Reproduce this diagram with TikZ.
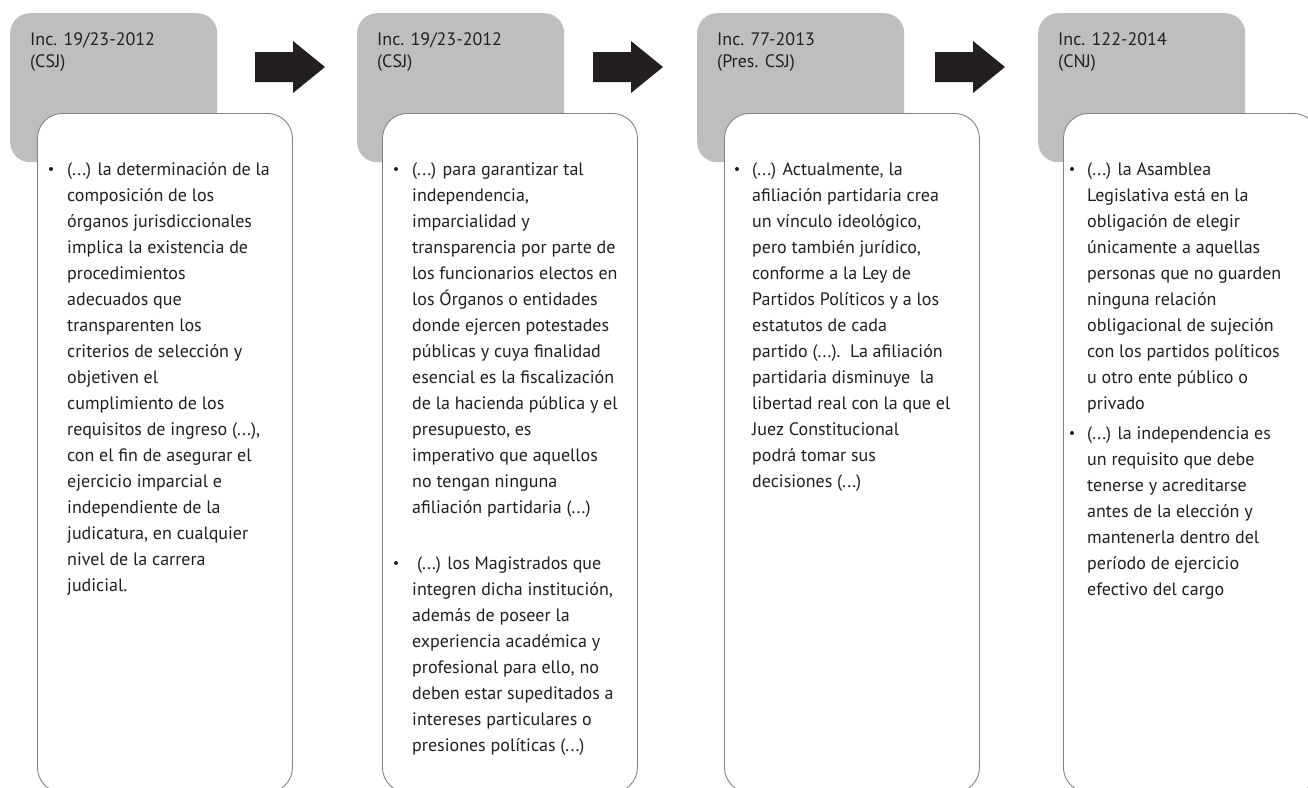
\documentclass[tikz,border=0pt]{standalone}
\usepackage{fontspec}
\setmainfont{PT Sans}
\definecolor{headgray}{RGB}{188,190,192}
\definecolor{framegray}{RGB}{128,130,133}
\definecolor{inkgray}{RGB}{35,31,32}
\begin{document}
\begin{tikzpicture}
	[x=1pt,y=-1pt,
	head/.style={fill=headgray,rounded corners=20pt,anchor=north west,minimum width=207pt,minimum height=149pt,inner sep=0pt},
	card/.style={draw=framegray,fill=white,line width=0.9pt,rounded corners=25pt,anchor=north west,minimum width=255pt,minimum height=679pt,inner sep=0pt},
	title/.style={anchor=north west,inner sep=0pt,align=left,text=inkgray,font=\fontsize{18}{22}\selectfont},
	body/.style={anchor=north west,inner sep=0pt,align=left,text=inkgray,font=\fontsize{18}{26}\selectfont},
	dot/.style={circle,fill=inkgray,inner sep=0pt,minimum size=4pt},
	blockarrow/.style={fill=inkgray}]
	\useasboundingbox (0,0) rectangle (1308,787);
	\clip (0,0) rectangle (1308,787);
	% first ruling
	\node[head] (hd1) at (10,13) {};
	\node[card] (cd1) at (37,113) {};
	\node[title] (tl1) at (30,32) {Inc. 19/23-2012\\(CSJ)};
	\node[dot] (bl1) at (51,169) {};
	\node[body] (tx1) at (67,162) {(...) la determinación de la\\composición de los\\órganos jurisdiccionales\\implica la existencia de\\procedimientos\\adecuados que\\transparenten los\\criterios de selección y\\objetiven el\\cumplimiento de los\\requisitos de ingreso (...),\\con el fin de asegurar el\\ejercicio imparcial e\\independiente de la\\judicatura, en cualquier\\nivel de la carrera\\judicial.};
	% second ruling
	\node[head] (hd2) at (357,13) {};
	\node[card] (cd2) at (382,113) {};
	\node[title] (tl2) at (377,32) {Inc. 19/23-2012\\(CSJ)};
	\node[dot] (bl2a) at (396,169) {};
	\node[body] (tx2a) at (412,162) {(...) para garantizar tal\\independencia,\\imparcialidad y\\transparencia por parte de\\los funcionarios electos en\\los Órganos o entidades\\donde ejercen potestades\\públicas y cuya finalidad\\esencial es la fiscalización\\de la hacienda pública y el\\presupuesto, es\\imperativo que aquellos\\no tengan ninguna\\afiliación partidaria (...)};
	\node[dot] (bl2b) at (396,563) {};
	\node[body] (tx2b) at (412,556) {\ (...) los Magistrados que\\integren dicha institución,\\además de poseer la\\experiencia académica y\\profesional para ello, no\\deben estar supeditados a\\intereses particulares o\\presiones políticas (...)};
	% third ruling
	\node[head] (hd3) at (697,13) {};
	\node[card] (cd3) at (724,113) {};
	\node[title] (tl3) at (717,32) {Inc. 77-2013\\(Pres. CSJ)};
	\node[dot] (bl3) at (737,169) {};
	\node[body] (tx3) at (752,162) {(...) Actualmente, la\\afiliación partidaria crea\\un vínculo ideológico,\\pero también jurídico,\\conforme a la Ley de\\Partidos Políticos y a los\\estatutos de cada\\partido (...).\ \ La afiliación\\partidaria disminuye\ \ la\\libertad real con la que el\\Juez Constitucional\\podrá tomar sus\\decisiones (...)};
	% fourth ruling
	\node[head] (hd4) at (1038,13) {};
	\node[card] (cd4) at (1063,113) {};
	\node[title] (tl4) at (1058,32) {Inc. 122-2014\\(CNJ)};
	\node[dot] (bl4a) at (1072,169) {};
	\node[body] (tx4a) at (1087,162) {(...) la Asamblea\\Legislativa está en la\\obligación de elegir\\únicamente a aquellas\\personas que no guarden\\ninguna relación\\obligacional de sujeción\\con los partidos políticos\\u otro ente público o\\privado};
	\node[dot] (bl4b) at (1072,433) {};
	\node[body] (tx4b) at (1087,426) {(...) la independencia es\\un requisito que debe\\tenerse y acreditarse\\antes de la elección y\\mantenerla dentro del\\período de ejercicio\\efectivo del cargo};
	% arrows between rulings
	\fill[blockarrow] (255,52) -- ++(38,0) -- ++(0,-11) -- ++(32,26) -- ++(-32,26) -- ++(0,-11) -- ++(-38,0) -- cycle;
	\fill[blockarrow] (593,52) -- ++(38,0) -- ++(0,-11) -- ++(32,26) -- ++(-32,26) -- ++(0,-11) -- ++(-38,0) -- cycle;
	\fill[blockarrow] (935,52) -- ++(38,0) -- ++(0,-11) -- ++(32,26) -- ++(-32,26) -- ++(0,-11) -- ++(-38,0) -- cycle;
\end{tikzpicture}
\end{document}
